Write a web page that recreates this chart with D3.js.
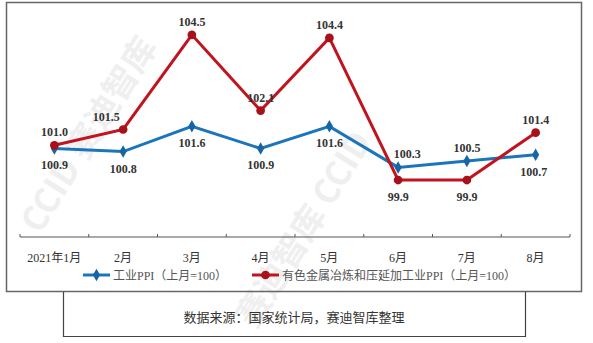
<!DOCTYPE html>
<html lang="zh">
<head>
  <meta charset="utf-8">
  <title>工业PPI 与有色金属冶炼和压延加工业PPI</title>
  <script src="https://d3js.org/d3.v7.min.js"></script>
  <style>
    html, body { margin: 0; padding: 0; background: #fff; }
    svg { display: block; }
    .lbl { font: bold 12px "Liberation Serif", "Times New Roman", serif; fill: #333; text-anchor: middle; }
    .cat { font: 12px "Liberation Serif", "Noto Sans CJK SC", serif; fill: #333; }
    .leg { font: 12px "Liberation Serif", "Noto Sans CJK SC", serif; fill: #555; }
  </style>
</head>
<body>
  <svg width="593" height="343"></svg>
  <script>
    // 月份
    const months = ["2021年1月", "2月", "3月", "4月", "5月", "6月", "7月", "8月"];
    // 工业PPI（上月=100）
    const ppiAll = [100.9, 100.8, 101.6, 100.9, 101.6, 100.3, 100.5, 100.7];
    // 有色金属冶炼和压延加工业PPI（上月=100）
    const ppiMetal = [101.0, 101.5, 104.5, 102.1, 104.4, 99.9, 99.9, 101.4];
    // 标签位置：1 = 上方, -1 = 下方
    const posAll = [-1, -1, -1, -1, -1, 1, 1, -1];
    const posMetal = [1, 1, 1, 1, 1, -1, -1, 1];
    // 标签水平偏移
    const dxAll = [0, 0, 0, 0, 0, 9, 0, -2];
    const dxMetal = [0, -17, 0, 0, 0, 0, 0, 0];

    const svg = d3.select("svg");
    const blue = "#1b75bb", red = "#c0141e";

    // watermark
    const wm = svg.append("g").attr("fill", "#efefef")
      .style("font", "bold 34px 'Noto Sans CJK SC', sans-serif");
    wm.append("text").attr("transform", "translate(40,235) rotate(-58)").text("CCID 赛迪智库");
    wm.append("text").attr("transform", "translate(255,330) rotate(-58)").text("赛迪智库  CCID");

    // outer frame
    svg.append("rect")
      .attr("x", 6.5).attr("y", 2.5).attr("width", 575).attr("height", 289)
      .attr("fill", "none").attr("stroke", "#666").attr("stroke-width", 1.5);

    // source box
    svg.append("path")
      .attr("d", "M63.5,292V336.5H525.5V292")
      .attr("fill", "none").attr("stroke", "#444").attr("stroke-width", 1.2);
    svg.append("text")
      .attr("x", 294).attr("y", 322).attr("text-anchor", "middle")
      .style("font", "13px 'Noto Sans CJK SC', sans-serif").attr("fill", "#333")
      .text("数据来源：国家统计局，赛迪智库整理");

    const x = d3.scaleBand().domain(months).range([20, 570]);
    const y = d3.scaleLinear().domain([98, 105]).range([240, 19]);
    const axisY = 237;

    // x axis, ticks pointing up
    const ax = svg.append("g").attr("transform", `translate(0,${axisY})`);
    ax.append("line").attr("x1", 20).attr("x2", 570).attr("stroke", "#555").attr("stroke-width", 1);
    ax.selectAll("line.tk")
      .data(d3.range(months.length + 1))
      .join("line").attr("class", "tk")
      .attr("x1", i => 20 + i * x.bandwidth()).attr("x2", i => 20 + i * x.bandwidth())
      .attr("y1", 0).attr("y2", -3).attr("stroke", "#555");
    ax.selectAll("text")
      .data(months)
      .join("text").attr("class", "cat")
      .attr("x", d => x(d) + x.bandwidth() / 2).attr("y", 25)
      .attr("text-anchor", "middle")
      .text(d => d);

    const cx = (d, i) => x(months[i]) + x.bandwidth() / 2;
    const line = d3.line().x(cx).y(d => y(d));

    function series(vals, pos, dx, color, shape) {
      const g = svg.append("g");
      g.append("path").datum(vals)
        .attr("d", line).attr("fill", "none")
        .attr("stroke", color).attr("stroke-width", 3).attr("stroke-linejoin", "miter");
      g.selectAll("path.m").data(vals).join("path").attr("class", "m")
        .attr("transform", (d, i) => `translate(${cx(d, i)},${y(d)})`)
        .attr("d", d3.symbol().type(shape).size(shape === d3.symbolDiamond ? 45 : 60))
        .attr("fill", d3.color(color).darker(0.4));
      g.selectAll("text").data(vals).join("text").attr("class", "lbl")
        .attr("x", (d, i) => cx(d, i) + dx[i])
        .attr("y", (d, i) => y(d) + (pos[i] > 0 ? -9 : 21))
        .text(d => d.toFixed(1));
    }

    series(ppiAll, posAll, dxAll, blue, d3.symbolDiamond);
    series(ppiMetal, posMetal, dxMetal, red, d3.symbolCircle);

    // legend
    const legend = [
      { name: "工业PPI（上月=100）", color: blue, shape: d3.symbolDiamond, x: 83 },
      { name: "有色金属冶炼和压延加工业PPI（上月=100）", color: red, shape: d3.symbolCircle, x: 252 }
    ];
    const lg = svg.selectAll("g.lg").data(legend).join("g").attr("class", "lg")
      .attr("transform", d => `translate(${d.x},275)`);
    lg.append("line").attr("x1", 0).attr("x2", 27)
      .attr("stroke", d => d.color).attr("stroke-width", 3);
    lg.append("path").attr("transform", "translate(13.5,0)")
      .attr("d", d => d3.symbol().type(d.shape).size(d.shape === d3.symbolDiamond ? 45 : 60)())
      .attr("fill", d => d3.color(d.color).darker(0.4));
    lg.append("text").attr("class", "leg").attr("x", 30).attr("y", 4.5).text(d => d.name);
  </script>
</body>
</html>
